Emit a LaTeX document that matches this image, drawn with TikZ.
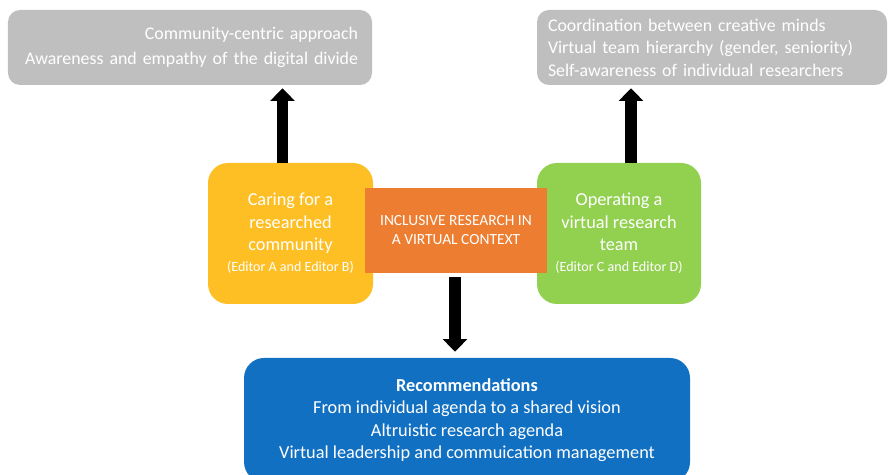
\documentclass[tikz,border=0pt]{standalone}
\usepackage{fontspec}
\setmainfont{Carlito}
\usetikzlibrary{arrows.meta,positioning}

\definecolor{boxgray}{HTML}{BFBFBF}
\definecolor{boxgold}{HTML}{FDBF24}
\definecolor{boxorange}{HTML}{ED7D31}
\definecolor{boxgreen}{HTML}{92D050}
\definecolor{boxblue}{HTML}{1170C2}

\tikzset{
	theme/.style={fill=boxgray, rounded corners=0.3cm, text=white, inner sep=0pt,
		minimum height=1.875cm, font=\fontsize{12.7}{16}\selectfont},
	pillar/.style={rounded corners=0.5cm, text=white, inner sep=0pt,
		minimum width=4.1cm, minimum height=3.525cm, align=center,
		font=\fontsize{13}{16}\selectfont},
	fat/.style={-{Triangle[width=17pt,length=9pt]}, line width=8.5pt, black},
}

\begin{document}
\begin{tikzpicture}
	\useasboundingbox (0,0) rectangle (22.275,-11.875);
	% what each strand has to watch for
	\node[theme, minimum width=9.1cm, text width=8.4cm, align=right,
		font=\fontsize{12.7}{18}\selectfont] (issuesL) at (4.75,-1.1875)
		{Community-centric approach\\Awareness and empathy of the digital divide};
	\node[theme, minimum width=8.75cm, text width=8.2cm, align=left] (issuesR) at (17.8,-1.1875)
		{Coordination between creative minds\\Virtual team hierarchy (gender, seniority)\\Self-awareness of individual researchers};
	% the two strands and the core
	\node[pillar, fill=boxgold, minimum width=4.125cm] (care) at (7.2625,-5.8375)
		{Caring for a\\researched\\community\\[-1pt]{\fontsize{10}{12}\selectfont(Editor A and Editor B)}};
	\node[pillar, fill=boxgreen] (team) at (15.475,-5.8375)
		{Operating a\\virtual research\\team\\[-1pt]{\fontsize{10}{12}\selectfont(Editor C and Editor D)}};
	\node[fill=boxorange, text=white, inner sep=0pt, minimum width=4.55cm, minimum height=2.125cm,
		align=center, font=\fontsize{11}{13.5}\selectfont] (core) at (11.4,-5.7625)
		{INCLUSIVE RESEARCH IN\\A VIRTUAL CONTEXT};
	% outcome
	\node[fill=boxblue, rounded corners=0.5cm, text=white, inner sep=0pt, minimum width=11.15cm,
		minimum height=3.1cm, align=center, font=\fontsize{13}{16}\selectfont] (recs) at (11.675,-10.5)
		{\textbf{Recommendations}\\From individual agenda to a shared vision\\Altruistic research agenda\\Virtual leadership and commuication management};

	\draw[fat, shorten >=0.075cm] ([xshift=-0.2cm]care.north) -- ([xshift=-0.2cm]care.north |- issuesL.south);
	\draw[fat, shorten >=0.075cm] ([xshift=0.3cm]team.north) -- ([xshift=0.3cm]team.north |- issuesR.south);
	\draw[fat, shorten <=0.1cm, shorten >=0.15cm] ([xshift=-0.025cm]core.south) -- ([xshift=-0.025cm]core.south |- recs.north);
\end{tikzpicture}
\end{document}
